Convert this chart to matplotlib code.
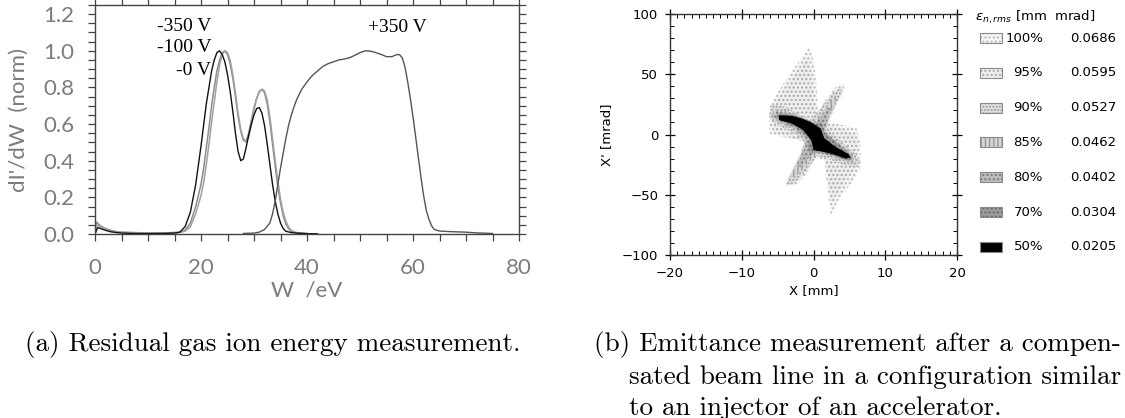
import matplotlib
matplotlib.use("Agg")
import matplotlib.pyplot as plt
from matplotlib.patches import Polygon, Rectangle
from matplotlib.ticker import MultipleLocator, FormatStrFormatter

# ---------------- (a) residual gas ion energy spectra ----------------
w_neg350 = [0, 0.3, 1, 2, 3, 4, 5, 7, 10, 13, 15, 16, 17, 18, 19, 20, 20.5, 21, 21.5, 22,
            22.5, 23, 23.5, 24, 24.5, 25, 25.5, 26, 26.5, 27, 27.5, 28, 28.5, 29, 29.5, 30,
            30.5, 31, 31.5, 32, 32.5, 33, 33.5, 34, 34.5, 35, 35.5, 36, 36.5, 37, 38, 40]
i_neg350 = [0.0, 0.065, 0.045, 0.03, 0.02, 0.013, 0.01, 0.008, 0.006, 0.006, 0.008, 0.01,
            0.02, 0.06, 0.15, 0.27, 0.36, 0.47, 0.58, 0.70, 0.80, 0.89, 0.95, 0.99, 1.0,
            0.98, 0.93, 0.85, 0.75, 0.64, 0.56, 0.51, 0.51, 0.55, 0.62, 0.69, 0.74, 0.775,
            0.79, 0.77, 0.71, 0.61, 0.49, 0.37, 0.26, 0.17, 0.10, 0.055, 0.03, 0.015, 0.006,
            0.002]

w_neg100 = [0, 0.3, 1, 2, 3, 4, 5, 7, 10, 13, 15, 16, 17, 18, 19, 20, 20.5, 21, 21.5, 22,
            22.5, 23, 23.5, 24, 24.5, 25, 25.5, 26, 26.5, 27, 27.5, 28, 28.5, 29, 29.5, 30,
            30.5, 31, 31.5, 32, 32.5, 33, 33.5, 34, 34.5, 35, 35.5, 36, 36.5, 37, 38, 40]
i_neg100 = [0.0, 0.05, 0.04, 0.028, 0.018, 0.012, 0.009, 0.007, 0.005, 0.005, 0.007, 0.009,
            0.015, 0.04, 0.11, 0.21, 0.28, 0.38, 0.49, 0.61, 0.72, 0.83, 0.92, 0.98, 1.0,
            0.99, 0.95, 0.87, 0.77, 0.66, 0.57, 0.52, 0.50, 0.53, 0.60, 0.68, 0.74, 0.78,
            0.79, 0.78, 0.73, 0.64, 0.52, 0.40, 0.29, 0.19, 0.12, 0.07, 0.04, 0.02, 0.008,
            0.002]

w_zero = [0, 0.5, 1, 2, 3, 4, 5, 7, 10, 13, 15, 16, 17, 18, 19, 20, 21, 22, 22.5, 23, 23.5,
          24, 24.5, 25, 25.5, 26, 26.5, 27, 27.5, 28, 28.5, 29, 29.5, 30, 30.5, 31, 31.5, 32,
          32.5, 33, 33.5, 34, 34.5, 35, 35.5, 36, 37, 38, 40, 42]
i_zero = [0.0, 0.035, 0.03, 0.02, 0.012, 0.008, 0.005, 0.003, 0.002, 0.003, 0.005, 0.01,
          0.04, 0.12, 0.27, 0.48, 0.71, 0.89, 0.95, 0.99, 1.0, 0.98, 0.94, 0.87, 0.78, 0.67,
          0.55, 0.45, 0.40, 0.41, 0.47, 0.54, 0.60, 0.65, 0.685, 0.69, 0.66, 0.59, 0.49,
          0.38, 0.27, 0.18, 0.11, 0.06, 0.03, 0.015, 0.008, 0.005, 0.002, 0.001]

w_pos350 = [28, 30, 31, 32, 33, 33.5, 34, 34.5, 35, 35.5, 36, 36.5, 37, 37.5, 38, 39, 40, 41,
            42, 43, 44, 45, 46, 47, 48, 49, 50, 51, 52, 53, 54, 55, 56, 57, 57.5, 58, 58.5,
            59, 59.5, 60, 60.5, 61, 61.5, 62, 62.5, 63, 63.5, 64, 65, 67, 70, 72, 75]
i_pos350 = [0.003, 0.005, 0.01, 0.025, 0.06, 0.11, 0.18, 0.27, 0.36, 0.44, 0.52, 0.59, 0.645,
            0.69, 0.73, 0.79, 0.83, 0.865, 0.89, 0.915, 0.93, 0.94, 0.95, 0.955, 0.962, 0.975,
            0.99, 1.0, 0.998, 0.99, 0.98, 0.968, 0.968, 0.98, 0.978, 0.96, 0.91, 0.83, 0.74,
            0.64, 0.53, 0.42, 0.31, 0.21, 0.13, 0.08, 0.045, 0.025, 0.016, 0.013, 0.01, 0.006,
            0.003]

curve_labels = ["-350 V", "-100 V", "-0 V", "+350 V"]

# ---------------- (b) emittance phase-space contours ----------------
levels = ["100%", "95%", "90%", "85%", "80%", "70%", "50%"]
emittance = [0.0686, 0.0595, 0.0527, 0.0462, 0.0402, 0.0304, 0.0205]

contour_100 = [(-0.5, 73), (0.2, 55), (0.5, 35), (0.6, 18), (1.9, 31), (3.2, 40), (4.2, 42),
               (4.3, 38), (3.0, 22), (2.0, 10), (4.0, 8), (6.0, 5), (6.5, -5), (6.6, -28),
               (5.6, -38), (3.7, -52), (2.4, -67), (1.9, -40), (1.5, -22), (0.2, -18),
               (-0.8, -32), (-2.5, -42), (-4.0, -43), (-3.5, -35), (-1.8, -15), (-1.0, -7),
               (-2.5, -4), (-6.0, 0), (-6.2, 5), (-6.0, 23), (-5.0, 35), (-3.2, 51),
               (-1.5, 65)]
contour_95 = [(-0.8, 64), (-0.2, 48), (0.1, 30), (0.5, 15), (1.8, 27), (3.3, 37), (3.8, 36),
              (2.8, 20), (2.0, 8), (4.5, 4), (5.8, 0), (6.2, -10), (6.0, -27), (4.8, -36),
              (3.2, -50), (2.5, -58), (2.1, -40), (1.6, -20), (0.3, -17), (-1.0, -30),
              (-3.0, -40), (-3.6, -38), (-2.0, -18), (-1.2, -6), (-3.0, -3), (-5.5, 2),
              (-5.8, 10), (-5.5, 25), (-4.2, 37), (-2.6, 50)]
contour_90 = [(-6.0, 25), (-4.0, 23), (-2.0, 17), (-0.5, 12), (1.0, 22), (2.8, 35), (3.8, 39),
              (4.0, 35), (2.5, 18), (1.8, 6), (3.5, -4), (5.5, -14), (6.5, -22), (6.0, -27),
              (4.0, -25), (2.0, -20), (0.5, -18), (-1.0, -30), (-2.8, -41), (-3.8, -42),
              (-3.5, -36), (-2.0, -20), (-1.2, -6), (-3.0, 2), (-5.0, 8), (-6.2, 14)]
contour_85 = [(-5.5, 21), (-3.5, 19), (-1.5, 14), (-0.3, 9), (1.2, 18), (2.6, 30), (3.2, 32),
              (3.0, 26), (2.0, 14), (1.6, 3), (3.5, -7), (5.3, -15), (6.0, -21), (5.4, -24),
              (3.5, -21), (1.8, -17), (0.4, -16), (-1.0, -25), (-2.5, -35), (-3.2, -36),
              (-2.7, -28), (-1.6, -15), (-1.0, -5), (-2.8, 4), (-4.8, 10), (-5.8, 15)]
contour_80 = [(-5.2, 19), (-3.2, 17.5), (-1.2, 13), (0.0, 8), (1.0, 14), (2.0, 22), (2.5, 22),
              (2.0, 14), (1.5, 2), (3.5, -8), (5.2, -16), (5.6, -21), (5.0, -22.5),
              (3.2, -19), (1.5, -16), (0.3, -15), (-0.8, -20), (-1.8, -27), (-2.3, -26),
              (-1.5, -15), (-0.9, -5), (-2.6, 5), (-4.6, 10), (-5.5, 14)]
contour_70 = [(-5.0, 17.5), (-3.0, 16.5), (-1.0, 12.5), (0.3, 9), (1.2, 10), (1.5, 2),
              (3.5, -8), (5.2, -17), (5.4, -20.5), (4.8, -21.5), (3.0, -18), (1.2, -15.5),
              (0.0, -15), (-0.5, -16), (-0.8, -10), (-0.6, -3), (-2.5, 6), (-4.5, 11),
              (-5.3, 14)]
contour_50 = [(-4.8, 16), (-3.0, 15.5), (-1.5, 13), (-0.3, 10), (1.0, 5), (1.5, -3),
              (3.0, -10), (4.8, -16), (5.2, -19), (4.5, -20), (2.5, -16), (1.0, -14),
              (0.0, -13), (-0.3, -5), (-1.5, 4), (-3.0, 9), (-4.8, 12)]
contours = [contour_100, contour_95, contour_90, contour_85, contour_80, contour_70, contour_50]

# fill style per level: face colour, hatch, hatch colour
styles = [("#f6f6f6", "....", "#b8b8b8"),
          ("#eeeeee", "....", "#a8a8a8"),
          ("#e2e2e2", ".....", "#9a9a9a"),
          ("#d6d6d6", "||||", "#9a9a9a"),
          ("#bdbdbd", "....", "#7a7a7a"),
          ("#9c9c9c", "....", "#666666"),
          ("#000000", None, "#000000")]

captions_a = "(a) Residual gas ion energy measurement."
captions_b = ["(b) Emittance measurement after a compen-",
              "sated beam line in a configuration similar",
              "to an injector of an accelerator."]

W, H = 1125, 418
fig = plt.figure(figsize=(W / 100, H / 100), dpi=100)


def frac(left, top, right, bottom):
    return [left / W, 1 - bottom / H, (right - left) / W, (bottom - top) / H]


# ---------- panel (a) ----------
tick_grey = "#7c7c7c"
axa = fig.add_axes(frac(95, 5, 519, 234))
axa.plot(w_neg350, i_neg350, color="#8c8c8c", lw=1.1)
axa.plot(w_neg100, i_neg100, color="#a0a0a0", lw=1.1)
axa.plot(w_zero, i_zero, color="#111111", lw=1.0)
axa.plot(w_pos350, i_pos350, color="#555555", lw=1.0)
axa.set_xlim(0, 80)
axa.set_ylim(0, 1.25)
axa.xaxis.set_major_locator(MultipleLocator(20))
axa.xaxis.set_minor_locator(MultipleLocator(5))
axa.yaxis.set_major_locator(MultipleLocator(0.2))
axa.yaxis.set_minor_locator(MultipleLocator(0.05))
axa.yaxis.set_major_formatter(FormatStrFormatter("%.1f"))
for s in axa.spines.values():
    s.set_color("#444444")
    s.set_linewidth(1.0)
axa.tick_params(which="both", direction="out", length=5, width=0.9, color="#444444",
                top=True, right=True)
axa.tick_params(axis="x", which="major", pad=12, labelsize=16, labelcolor=tick_grey)
axa.tick_params(axis="y", which="major", pad=10, labelsize=16, labelcolor=tick_grey)
for lab in axa.get_xticklabels() + axa.get_yticklabels():
    lab.set_fontfamily("Lato")
axa.set_xlabel("W  /eV", fontsize=16, color=tick_grey, family="Lato", labelpad=2)
axa.set_ylabel("dI'/dW  (norm)", fontsize=16, color=tick_grey, family="Lato", labelpad=10)

serif = "Liberation Serif"
axa.text(22.0, 1.135, curve_labels[0], ha="right", va="center", fontsize=14, family=serif)
axa.text(22.0, 1.02, curve_labels[1], ha="right", va="center", fontsize=14, family=serif)
axa.text(21.9, 0.89, curve_labels[2], ha="right", va="center", fontsize=14, family=serif)
axa.text(62.5, 1.125, curve_labels[3], ha="right", va="center", fontsize=14, family=serif)

# ---------- panel (b) ----------
axb = fig.add_axes(frac(670, 14, 957, 255))
for poly, (fc, hatch, hc) in zip(contours, styles):
    axb.add_patch(Polygon(poly, closed=True, facecolor=fc, edgecolor=hc, hatch=hatch,
                          linewidth=0))
axb.set_xlim(-20, 20)
axb.set_ylim(-100, 100)
axb.xaxis.set_major_locator(MultipleLocator(10))
axb.xaxis.set_minor_locator(MultipleLocator(1))
axb.yaxis.set_major_locator(MultipleLocator(50))
axb.yaxis.set_minor_locator(MultipleLocator(10))
for s in axb.spines.values():
    s.set_color("#333333")
    s.set_linewidth(1.0)
axb.tick_params(which="major", direction="inout", length=7, width=0.9, top=True,
                right=True, labelsize=9.5, pad=5)
axb.tick_params(which="minor", direction="in", length=3, width=0.7, top=True, right=True)
axb.set_xlabel("X [mm]", fontsize=9.5, labelpad=3)
axb.set_ylabel("X' [mrad]", fontsize=9.5, labelpad=6)

# legend of emittance levels
fig.text(975 / W, 1 - 17 / H, r"$\epsilon_{n,rms}$ [mm  mrad]", fontsize=9.5,
         ha="left", va="center")
for i, (lev, emi, (fc, hatch, hc)) in enumerate(zip(levels, emittance, styles)):
    yc = 38 + 34.8 * i
    fig.patches.append(Rectangle((980 / W, 1 - (yc + 5) / H), 22 / W, 10 / H,
                                 transform=fig.transFigure, facecolor=fc, hatch=hatch,
                                 edgecolor=hc if hatch else "#000000", linewidth=0))
    fig.patches.append(Rectangle((980 / W, 1 - (yc + 5) / H), 22 / W, 10 / H,
                                 transform=fig.transFigure, facecolor="none",
                                 edgecolor="#8a8a8a", linewidth=0.8))
    fig.text(1043 / W, 1 - yc / H, lev, fontsize=9.5, ha="right", va="center")
    fig.text(1070 / W, 1 - yc / H, f"{emi:.4f}", fontsize=9.5, ha="left", va="center")

# ---------- captions ----------
cap_font = dict(family="cmr10", fontsize=19.5, va="center", ha="left")
fig.text(25 / W, 1 - 345 / H, captions_a, **cap_font)
fig.text(594 / W, 1 - 345 / H, captions_b[0], **cap_font)
fig.text(629 / W, 1 - 377 / H, captions_b[1], **cap_font)
fig.text(629 / W, 1 - 408 / H, captions_b[2], **cap_font)

fig.savefig("out.png", dpi=100)
